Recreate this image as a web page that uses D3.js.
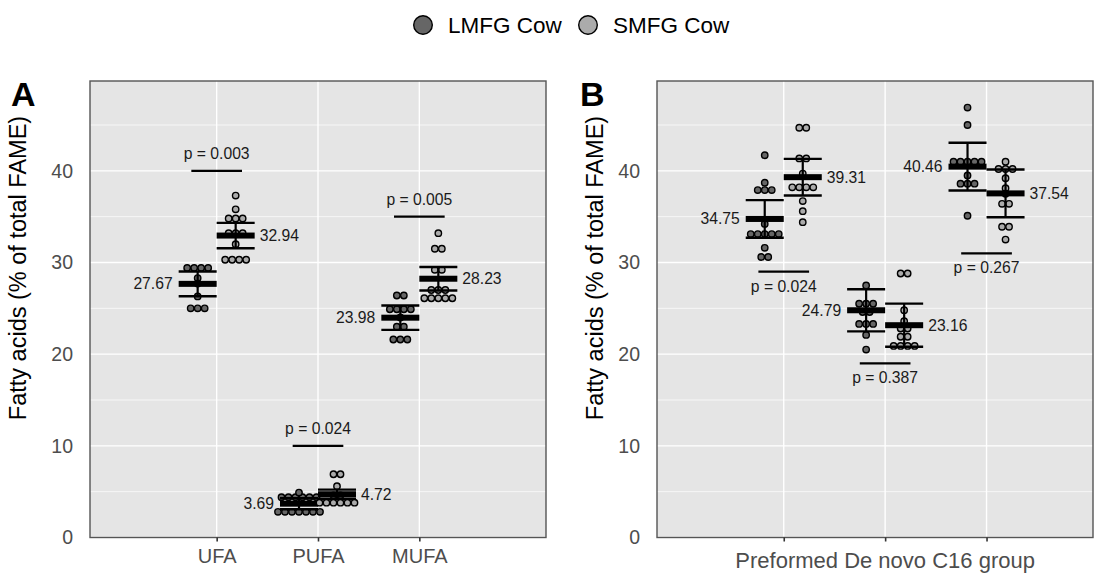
<!DOCTYPE html>
<html>
<head>
<meta charset="utf-8">
<script src="https://cdn.jsdelivr.net/npm/d3@7"></script>
<style>
  body { margin: 0; background: #fff; }
  svg { font-family: "Liberation Sans", Arial, sans-serif; }
</style>
</head>
<body>
<svg id="chart" width="1104" height="574"></svg>
<script>
// data
let groups = ["LMFG Cow", "SMFG Cow"];
let groupFill = ["#666666", "#ababab"];

let catsA = ["UFA", "PUFA", "MUFA"];
let meanA_LMFG = [27.67, 3.69, 23.98];
let meanA_SMFG = [32.94, 4.72, 28.23];
let sdA_LMFG = [1.35, 0.6, 1.33];
let sdA_SMFG = [1.38, 0.5, 1.28];
let pTextA = ["0.003", "0.024", "0.005"];
let pLineA = [40, 10, 35];
let dotsA_LMFG = [
    [29.4, 29.4, 29.4, 29.4, 28.3, 27.7, 26.3, 25.0, 25.0, 25.0],
    [2.8, 2.8, 2.8, 2.8, 2.8, 2.8, 2.8, 4.4, 4.4, 4.4, 4.4, 4.4, 4.4, 4.9],
    [26.4, 26.4, 24.9, 24.9, 24.9, 24.9, 24.0, 23.0, 23.0, 21.6, 21.6, 21.6]
];
let dotsA_SMFG = [
    [37.3, 35.8, 34.8, 34.8, 34.8, 33.2, 33.2, 33.2, 32.0, 30.3, 30.3, 30.3, 30.3],
    [3.8, 3.8, 3.8, 3.8, 3.8, 3.8, 4.6, 4.6, 5.6, 6.9, 6.9],
    [33.2, 31.5, 31.5, 29.2, 29.2, 27.0, 27.0, 27.0, 26.1, 26.1, 26.1, 26.1, 26.1]
];

let catsB = ["Preformed", "De novo", "C16"];
let xTitleB = "Preformed De novo C16 group";
let meanB_LMFG = [34.75, 24.79, 40.46];
let meanB_SMFG = [39.31, 23.16, 37.54];
let sdB_LMFG = [2.05, 2.3, 2.6];
let sdB_SMFG = [2.0, 2.35, 2.6];
let pTextB = ["0.024", "0.387", "0.267"];
let pLineB = [29, 19, 31];
let dotsB_LMFG = [
    [41.7, 38.7, 37.9, 37.9, 37.9, 34.2, 33.1, 33.1, 33.1, 33.1, 33.1, 31.6, 30.6, 30.6],
    [27.5, 25.5, 25.5, 25.5, 24.6, 24.6, 23.3, 23.3, 23.3, 22.1, 20.5],
    [46.9, 45.0, 41.0, 41.0, 41.0, 41.0, 41.0, 39.5, 38.6, 38.6, 38.6, 35.1]
];
let dotsB_SMFG = [
    [44.7, 44.7, 41.35, 41.35, 39.7, 38.2, 38.2, 38.2, 38.2, 36.7, 35.6, 34.4],
    [28.8, 28.8, 24.8, 23.6, 22.8, 22.8, 21.9, 21.9, 20.9, 20.9, 20.9, 20.9],
    [41.0, 40.2, 40.2, 40.2, 39.2, 38.1, 37.5, 36.4, 36.4, 33.9, 33.9, 32.5]
];

let yTicks = [0, 10, 20, 30, 40];
let yMinor = [5, 15, 25, 35, 45];
let yTitle = "Fatty acids (% of total FAME)";

//canvas
let svg = d3.select("#chart");
let plotTop = 81, plotBottom = 537.5;
let y = d3.scaleLinear().domain([0, 49.8]).range([plotBottom, plotTop]);

let xA = d3.scaleLinear().domain([-0.25, 4.25]).range([90, 546]);
let xB = d3.scaleLinear().domain([-0.25, 4.05]).range([657, 1093]);

let dodge = 0.1875;
let dotStep = 7;

function drawPanel(x, cats, meansL, meansS, sdsL, sdsS, dotsL, dotsS, pText, pLine, pBelow, letter, titleX) {
    let x0 = x.range()[0], x1 = x.range()[1];
    let g = svg.append("g");

    g.append("rect")
        .attr("x", x0).attr("y", plotTop)
        .attr("width", x1 - x0).attr("height", plotBottom - plotTop)
        .attr("fill", "#e5e5e5");

    g.selectAll(".minor")
        .data(yMinor)
        .enter().append("line")
        .attr("x1", x0).attr("x2", x1)
        .attr("y1", d => y(d)).attr("y2", d => y(d))
        .attr("stroke", "#fff").attr("stroke-width", 0.7);

    g.selectAll(".major")
        .data(yTicks)
        .enter().append("line")
        .attr("x1", x0).attr("x2", x1)
        .attr("y1", d => y(d)).attr("y2", d => y(d))
        .attr("stroke", "#fff").attr("stroke-width", 1.4);

    g.selectAll(".vmajor")
        .data(cats)
        .enter().append("line")
        .attr("x1", (d, i) => x(i + 1)).attr("x2", (d, i) => x(i + 1))
        .attr("y1", plotTop).attr("y2", plotBottom)
        .attr("stroke", "#fff").attr("stroke-width", 1.4);

    let halfW = x(dodge) - x(0);

    [[meansL, sdsL, dotsL, -1], [meansS, sdsS, dotsS, 1]].forEach(function(s, gi) {
        let means = s[0], sds = s[1], dots = s[2], side = s[3];

        cats.forEach(function(c, ci) {
            let cx = x(ci + 1 + side * dodge);

            // dots stacked in rows, centred on the group
            let rows = d3.groups(dots[ci], v => v);
            rows.forEach(function(r) {
                let n = r[1].length;
                g.selectAll(null)
                    .data(r[1])
                    .enter().append("circle")
                    .attr("cx", (v, k) => cx + (k - (n - 1) / 2) * dotStep)
                    .attr("cy", v => y(v))
                    .attr("r", 3.2)
                    .attr("fill", groupFill[gi])
                    .attr("stroke", "#000")
                    .attr("stroke-width", 1.4);
            });

            let m = means[ci], sd = sds[ci];
            g.append("line")
                .attr("x1", cx).attr("x2", cx)
                .attr("y1", y(m + sd)).attr("y2", y(m - sd))
                .attr("stroke", "#000").attr("stroke-width", 2.2);
            [m + sd, m - sd].forEach(function(v) {
                g.append("line")
                    .attr("x1", cx - halfW).attr("x2", cx + halfW)
                    .attr("y1", y(v)).attr("y2", y(v))
                    .attr("stroke", "#000").attr("stroke-width", 2.4);
            });
            g.append("rect")
                .attr("x", cx - halfW).attr("y", y(m) - 3)
                .attr("width", halfW * 2).attr("height", 6)
                .attr("fill", "#000");

            g.append("text")
                .attr("x", side < 0 ? cx - halfW - 6 : cx + halfW + 5)
                .attr("y", y(m) + 5.5)
                .attr("text-anchor", side < 0 ? "end" : "start")
                .style("font-size", "15.7px")
                .attr("fill", "#1a1a1a")
                .text(m.toFixed(2));
        });
    });

    // p-value brackets
    cats.forEach(function(c, ci) {
        let py = y(pLine[ci]);
        g.append("line")
            .attr("x1", x(ci + 1 - 0.25)).attr("x2", x(ci + 1 + 0.25))
            .attr("y1", py).attr("y2", py)
            .attr("stroke", "#000").attr("stroke-width", 2.2);
        g.append("text")
            .attr("x", x(ci + 1))
            .attr("y", pBelow ? py + 20 : py - 12)
            .attr("text-anchor", "middle")
            .style("font-size", "15.7px")
            .attr("fill", "#1a1a1a")
            .text("p = " + pText[ci]);
    });

    g.append("rect")
        .attr("x", x0).attr("y", plotTop)
        .attr("width", x1 - x0).attr("height", plotBottom - plotTop)
        .attr("fill", "none")
        .attr("stroke", "#555").attr("stroke-width", 1.4);

    // axes
    let yAxis = g.append("g")
        .attr("transform", "translate(" + x0 + ",0)")
        .call(d3.axisLeft(y).tickValues(yTicks).tickSize(0).tickPadding(17));
    yAxis.select(".domain").remove();
    yAxis.selectAll("text")
        .style("font-size", "19.5px")
        .style("font-family", "Liberation Sans, Arial, sans-serif")
        .attr("fill", "#4d4d4d");

    let xAxis = g.append("g")
        .attr("transform", "translate(0," + plotBottom + ")")
        .call(d3.axisBottom(x).tickValues([1, 2, 3])
            .tickFormat(i => titleX ? "" : cats[i - 1])
            .tickSize(4).tickPadding(7));
    xAxis.select(".domain").remove();
    xAxis.selectAll("line").attr("stroke", "#333").attr("stroke-width", 1.6);
    xAxis.selectAll("text")
        .style("font-size", "20px")
        .style("font-family", "Liberation Sans, Arial, sans-serif")
        .attr("fill", "#4d4d4d");

    if (titleX) {
        g.append("text")
            .attr("x", x(2)).attr("y", 568)
            .attr("text-anchor", "middle")
            .style("font-size", "22px")
            .attr("fill", "#4d4d4d")
            .text(titleX);
    }

    let ty = 268;
    let tx = x0 - 55 - (letter === "A" ? 9 : -1);
    g.append("text")
        .attr("transform", "translate(" + tx + "," + ty + ") rotate(-90)")
        .attr("text-anchor", "middle")
        .style("font-size", "23.5px")
        .attr("fill", "#000")
        .text(yTitle);

    g.append("text")
        .attr("x", letter === "A" ? 11 : 580).attr("y", 106)
        .style("font-size", "34px")
        .style("font-weight", "bold")
        .attr("fill", "#000")
        .text(letter);
}

drawPanel(xA, catsA, meanA_LMFG, meanA_SMFG, sdA_LMFG, sdA_SMFG, dotsA_LMFG, dotsA_SMFG, pTextA, pLineA, false, "A", null);
drawPanel(xB, catsB, meanB_LMFG, meanB_SMFG, sdB_LMFG, sdB_SMFG, dotsB_LMFG, dotsB_SMFG, pTextB, pLineB, true, "B", xTitleB);

// legend
let legendX = [423, 588];
let legend = svg.append("g")
    .selectAll("g")
    .data(groups)
    .enter().append("g")
    .attr("transform", (d, i) => "translate(" + legendX[i] + ",25)");
legend.append("circle")
    .attr("r", 9.3)
    .attr("fill", (d, i) => groupFill[i])
    .attr("stroke", "#000").attr("stroke-width", 1.4);
legend.append("text")
    .attr("x", 25).attr("y", 8)
    .style("font-size", "22.5px")
    .attr("fill", "#000")
    .text(d => d);
</script>
</body>
</html>
